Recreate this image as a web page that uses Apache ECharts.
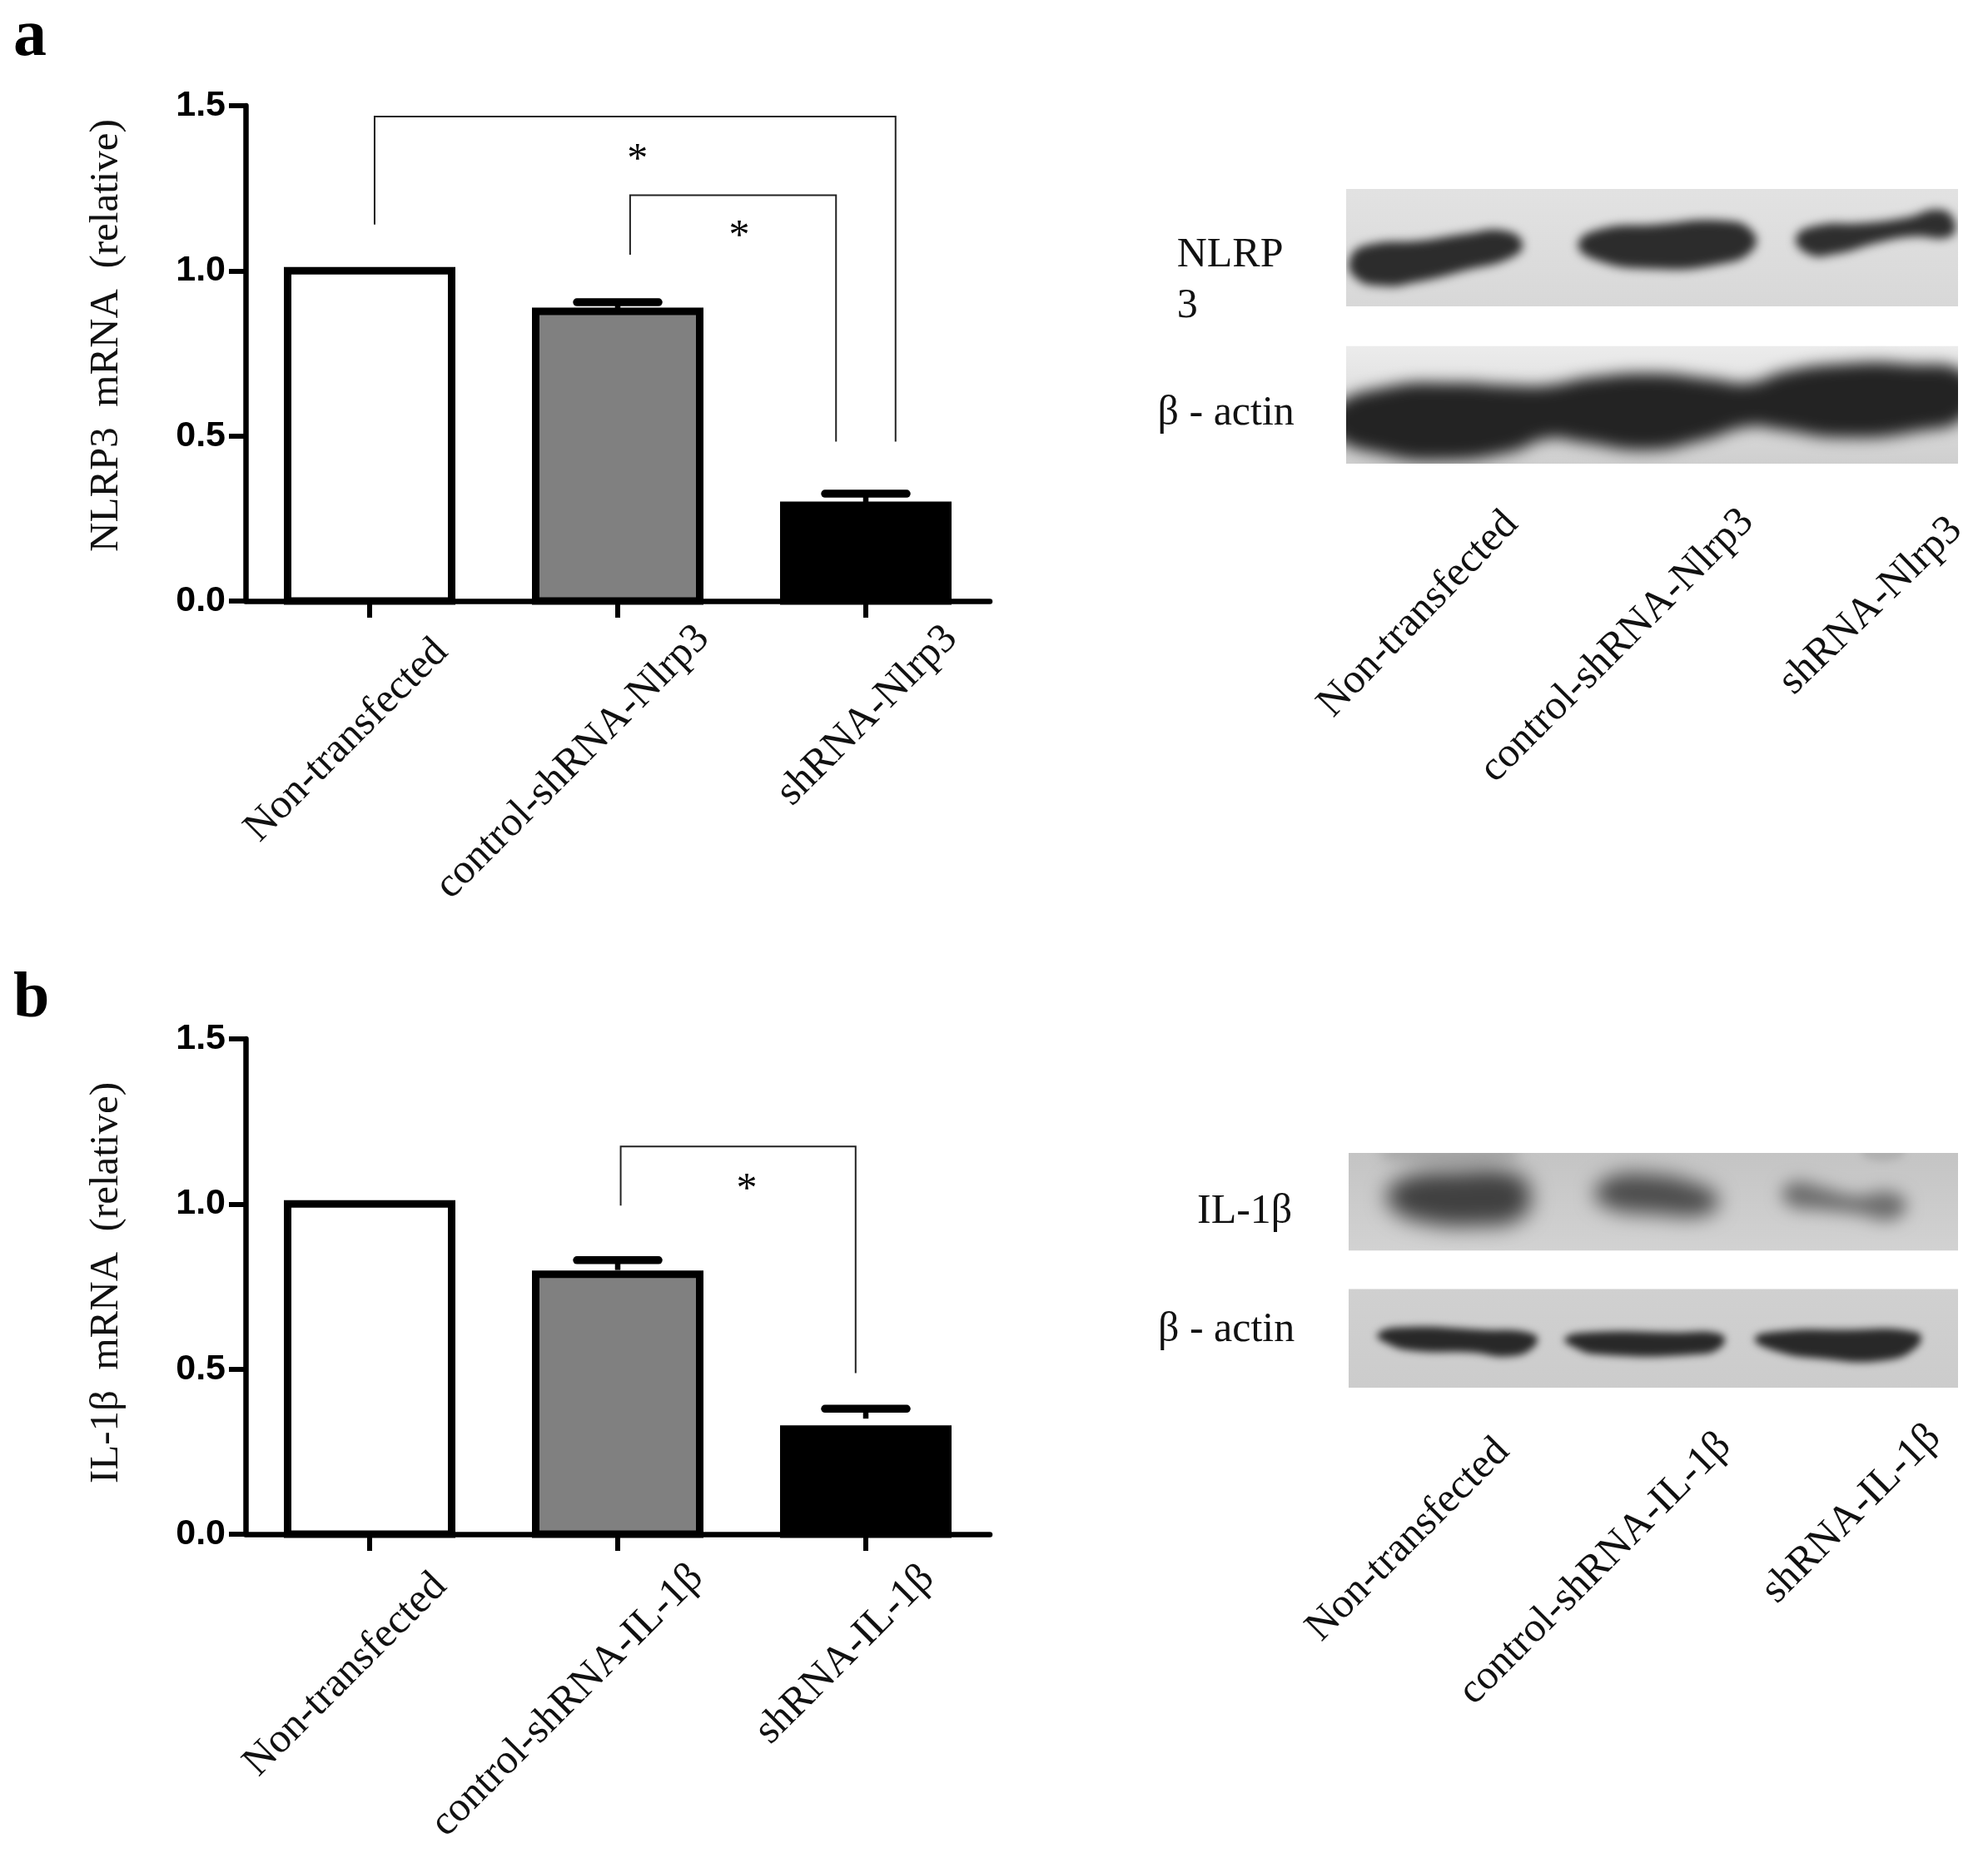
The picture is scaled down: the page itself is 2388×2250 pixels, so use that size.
<!DOCTYPE html>
<html>
<head>
<meta charset="utf-8">
<style>html,body{margin:0;padding:0;background:#fff}#c{width:2388px;height:2250px}</style>
<script src="https://cdn.jsdelivr.net/npm/echarts@6/dist/echarts.min.js"></script>
</head>
<body>
<div id="c"></div>
<script>
// ---------- data ----------
const categoriesA = ['Non-transfected', 'control-shRNA-Nlrp3', 'shRNA-Nlrp3'];
const categoriesB = ['Non-transfected', 'control-shRNA-IL-1β', 'shRNA-IL-1β'];
const valuesA = [1.0, 0.877, 0.29];
const valuesB = [1.0, 0.787, 0.318];
const errorTopA = [null, 0.905, 0.325];
const errorTopB = [null, 0.83, 0.38];
const yTicks = [0, 0.5, 1.0, 1.5];
// significance brackets, in category / value units
const bracketsA = [
  [[0.02, 1.14], [0.02, 1.467], [2.12, 1.467], [2.12, 0.483]],
  [[1.05, 1.049], [1.05, 1.229], [1.88, 1.229], [1.88, 0.483]]
];
const bracketsB = [
  [[1.012, 0.995], [1.012, 1.174], [1.959, 1.174], [1.959, 0.488]]
];
const starsA = [[1.08, 1.356], [1.49, 1.125]];
const starsB = [[1.52, 1.063]];

// ---------- blot illustrations, in each blot panel's own hidden-axis units ----------
const blotPanelsA = [
  { box: [404, 98, 1514, 393], top: '#e2e2e2', bottom: '#d8d8d8' },
  { box: [404, 493, 1514, 789], top: '#ececec', bottom: '#cfcfcf' }
];
const blotBandsA = [
  { box: 0, color: '#2c2c2c', blur: 12, pts: [[412,270],[446,238],[540,228],[620,211],[692,203],[724,235],[704,270],[622,302],[532,332],[470,342],[420,320]] },
  { box: 0, color: '#2c2c2c', blur: 12, pts: [[825,235],[868,198],[960,188],[1092,178],[1141,205],[1141,252],[1082,287],[960,299],[856,276]] },
  { box: 0, color: '#2e2e2e', blur: 12, pts: [[1220,220],[1258,190],[1340,184],[1420,170],[1480,150],[1508,180],[1499,218],[1432,218],[1372,232],[1290,262],[1243,262]] },
  { box: 1, color: '#232323', blur: 18, pts: [[380,650],[480,596],[600,586],[700,592],[770,592],[850,572],[960,562],[1070,577],[1135,586],[1200,557],[1300,538],[1420,538],[1530,565],[1530,665],[1440,708],[1300,723],[1190,703],[1135,696],[1050,730],[950,755],[830,735],[770,726],[700,760],[580,780],[470,765],[380,715]] }
];
const blotLabelsA = [
  { text: 'NLRP', x: 97, y: 266, rot: 0 }, { text: '3', x: 97, y: 393, rot: 0 },
  { text: 'β - actin', x: 62, y: 664, rot: 0 },
  { text: 'Non-transfected', x: 535, y: 1168, rot: 46 },
  { text: 'control-shRNA-Nlrp3', x: 896, y: 1247, rot: 45 },
  { text: 'shRNA-Nlrp3', x: 1356, y: 1147, rot: 44 }
];
const blotPanelsB = [
  { box: [408, 72, 1514, 318], top: '#c4c4c4', bottom: '#d2d2d2' },
  { box: [408, 415, 1514, 664], top: '#d0d0d0', bottom: '#cccccc' }
];
const blotBandsB = [
  { box: 0, color: '#a8a8a8', blur: 16, pts: [[470,50],[700,50],[710,90],[480,90]] },
  { box: 0, color: '#b0b0b0', blur: 10, pts: [[1345,50],[1410,50],[1410,84],[1345,84]] },
  { box: 0, color: '#404040', blur: 26, pts: [[478,175],[510,135],[600,120],[710,125],[738,175],[720,235],[640,255],[540,245],[490,215]] },
  { box: 0, color: '#4c4c4c', blur: 24, pts: [[855,175],[880,135],[950,125],[1040,150],[1078,185],[1060,225],[960,225],[880,210]] },
  { box: 0, color: '#6c6c6c', blur: 20, pts: [[1195,170],[1220,145],[1270,160],[1330,180],[1390,170],[1420,200],[1395,240],[1330,225],[1260,215],[1210,205]] },
  { box: 1, color: '#282828', blur: 10, pts: [[460,530],[500,512],[650,518],[745,530],[745,560],[700,585],[630,575],[520,570],[475,550]] },
  { box: 1, color: '#282828', blur: 10, pts: [[800,540],[840,525],[1000,525],[1085,530],[1085,560],[1040,580],[860,580],[815,560]] },
  { box: 1, color: '#282828', blur: 10, pts: [[1145,540],[1190,522],[1300,518],[1440,525],[1440,560],[1380,595],[1260,590],[1180,570]] }
];
const blotLabelsB = [
  { text: 'IL-1β', x: 133, y: 220, rot: 0 },
  { text: 'β - actin', x: 62, y: 518, rot: 0 },
  { text: 'Non-transfected', x: 516, y: 1048, rot: 45 },
  { text: 'control-shRNA-IL-1β', x: 856, y: 1121, rot: 45 },
  { text: 'shRNA-IL-1β', x: 1321, y: 983, rot: 45 }
];

// ---------- styles / layout ----------
const SERIF = '"Liberation Serif"';
const SANS = '"Liberation Sans"';
const barFills = ['#ffffff', '#808080', '#000000'];
// shift of each rotated tick label from its anchor: [along the text, across the text]
const labelShiftA = [[-39, 0], [-76, 0], [3, 0]];
const labelShiftB = [[-41, 1], [-85, 8], [-21, -14]];
const LABEL_MARGIN = 140;
const BAR_PX = 197;
const BAR_EDGE = 9;

function axisCats(cats, shifts) {
  return cats.map((c, i) => {
    const lx = shifts[i][0], ly = shifts[i][1];
    const style = {
      align: 'center', verticalAlign: 'middle',
      padding: [ly > 0 ? 2 * ly : 0, lx < 0 ? -2 * lx : 0, 0, lx > 0 ? 2 * lx : 0]
    };
    if (ly < 0) { style.verticalAlign = 'bottom'; style.lineHeight = -2 * ly; }
    return { value: c, textStyle: style };
  });
}

function errorSeries(xi, yi, top) {
  return {
    type: 'custom', xAxisIndex: xi, yAxisIndex: yi, z: 1,
    data: top.map((t, i) => t === null ? null : [i, t]).filter(Boolean),
    renderItem(p, api) {
      const x = api.value(0), t = api.value(1);
      const a = api.coord([x, t]);
      const b = api.coord([x, t - 0.03]);
      return {
        type: 'group', children: [
          { type: 'line', shape: { x1: a[0], y1: a[1], x2: b[0], y2: b[1] }, style: { stroke: '#000', lineWidth: 6.5 } },
          { type: 'line', shape: { x1: a[0] - 49, y1: a[1], x2: a[0] + 49, y2: a[1] }, style: { stroke: '#000', lineWidth: 9.5, lineCap: 'round' } }
        ]
      };
    }
  };
}

function barSeries(xi, yi, vals) {
  return {
    type: 'bar', xAxisIndex: xi, yAxisIndex: yi, barWidth: BAR_PX, z: 2,
    data: vals.map((v, i) => ({ value: v, itemStyle: { color: barFills[i], borderWidth: 0 } }))
  };
}

// outline centred on each bar's edges
function barOutlineSeries(xi, yi, vals) {
  return {
    type: 'custom', xAxisIndex: xi, yAxisIndex: yi, z: 3,
    data: vals.map((v, i) => [i, v]),
    renderItem(p, api) {
      const t = api.coord([api.value(0), api.value(1)]);
      const b = api.coord([api.value(0), 0]);
      return {
        type: 'rect', shape: { x: t[0] - BAR_PX / 2, y: t[1], width: BAR_PX, height: b[1] - t[1] },
        style: { fill: null, stroke: '#000', lineWidth: BAR_EDGE }
      };
    }
  };
}

function bracketSeries(xi, yi, brackets) {
  return {
    type: 'custom', xAxisIndex: xi, yAxisIndex: yi, z: 4,
    data: brackets.map((b, i) => [b[0][0], b[0][1], i]),
    renderItem(p, api) {
      const pts = brackets[api.value(2)].map(q => api.coord(q));
      return { type: 'polyline', shape: { points: pts }, style: { stroke: '#222', lineWidth: 2, fill: null } };
    }
  };
}

function starSeries(xi, yi, stars) {
  return {
    type: 'custom', xAxisIndex: xi, yAxisIndex: yi, z: 4,
    data: stars,
    renderItem(p, api) {
      const c = api.coord([api.value(0), api.value(1)]);
      return { type: 'text', x: c[0], y: c[1] + 9, style: { text: '*', fontFamily: SERIF, fontSize: 50, fill: '#000', align: 'center', verticalAlign: 'middle' } };
    }
  };
}

function blotPanelSeries(xi, yi, panels) {
  return {
    type: 'custom', xAxisIndex: xi, yAxisIndex: yi, z: 1,
    data: panels.map((q, i) => [q.box[0], q.box[1], i]),
    renderItem(p, api) {
      const q = panels[api.value(2)];
      const a = api.coord([q.box[0], q.box[1]]), b = api.coord([q.box[2], q.box[3]]);
      return {
        type: 'rect', shape: { x: a[0], y: a[1], width: b[0] - a[0], height: b[1] - a[1] },
        style: { fill: new echarts.graphic.LinearGradient(0, 0, 0, 1, [{ offset: 0, color: q.top }, { offset: 1, color: q.bottom }]) }
      };
    }
  };
}

// The band outline sits off-canvas so only its blurred shadow lands on the panel.
const OFFSET = 4000;
function blotBandSeries(xi, yi, panels, bands) {
  return {
    type: 'custom', xAxisIndex: xi, yAxisIndex: yi, z: 2,
    data: bands.map((q, i) => [q.pts[0][0], q.pts[0][1], i]),
    renderItem(p, api) {
      const q = bands[api.value(2)];
      const bx = panels[q.box].box;
      const a = api.coord([bx[0], bx[1]]), b = api.coord([bx[2], bx[3]]);
      return {
        type: 'group',
        clipPath: { type: 'rect', shape: { x: a[0], y: a[1], width: b[0] - a[0], height: b[1] - a[1] } },
        children: [{
          type: 'polygon',
          shape: { points: q.pts.map(t => { const c = api.coord(t); return [c[0] - OFFSET, c[1]]; }), smooth: 0.5 },
          style: { fill: q.color, shadowBlur: q.blur, shadowColor: q.color, shadowOffsetX: OFFSET }
        }]
      };
    }
  };
}

function blotLabelSeries(xi, yi, labels) {
  return {
    type: 'custom', xAxisIndex: xi, yAxisIndex: yi, z: 5,
    data: labels.map((q, i) => [q.x, q.y, i]),
    renderItem(p, api) {
      const q = labels[api.value(2)];
      const c = api.coord([q.x, q.y]);
      const rotated = q.rot !== 0;
      return {
        type: 'text', x: c[0], y: c[1], rotation: q.rot * Math.PI / 180,
        style: {
          text: q.text, fontFamily: SERIF, fontSize: 50, fill: '#111',
          align: rotated ? 'center' : 'left', verticalAlign: 'middle'
        }
      };
    }
  };
}

function chartAxes(top, height, name, nameShift, cats, shifts, gridIndex) {
  return {
    grid: { left: 295, width: 894, top: top, height: height, containLabel: false, outerBoundsMode: 'none' },
    xs: [
      {
        type: 'category', gridIndex, data: axisCats(cats, shifts), boundaryGap: true,
        axisLine: { show: true, onZero: false, lineStyle: { color: '#000', width: 6.5 } },
        axisTick: { show: true, alignWithLabel: true, length: 20, lineStyle: { color: '#000', width: 6 } },
        axisLabel: {
          interval: 0, rotate: 45, margin: LABEL_MARGIN,
          fontFamily: SERIF, fontSize: 50, color: '#111', hideOverlap: false
        }
      },
      { type: 'value', gridIndex, show: false, min: -0.5, max: 2.5, splitLine: { show: false } }
    ],
    y: {
      type: 'value', gridIndex, min: 0, max: 1.5, interval: 0.5,
      name, nameLocation: 'middle', nameGap: 142, nameRotate: 90,
      nameTextStyle: { fontFamily: SERIF, fontSize: 49, color: '#111', padding: nameShift },
      splitLine: { show: false },
      axisLine: { show: true, onZero: false, lineStyle: { color: '#000', width: 6.5 } },
      axisTick: { show: true, length: 20, lineStyle: { color: '#000', width: 6 } },
      axisLabel: {
        margin: 24, fontFamily: SANS, fontWeight: 'bold', fontSize: 43, color: '#000',
        formatter: v => yTicks.includes(v) ? v.toFixed(1) : ''
      }
    }
  };
}

function hiddenAxes(box, gridIndex) {
  return {
    x: { type: 'value', gridIndex, show: false, min: box[0], max: box[2], splitLine: { show: false } },
    y: { type: 'value', gridIndex, show: false, min: box[1], max: box[3], inverse: true, splitLine: { show: false } }
  };
}

const chartA = chartAxes(127, 595, 'NLRP3  mRNA  (relative)', [0, 0, 0, 43], categoriesA, labelShiftA, 0);
const chartB = chartAxes(1248, 595, 'IL-1β  mRNA  (relative)', [0, 0, 0, 9], categoriesB, labelShiftB, 2);
const hidA = hiddenAxes([404, 98, 1514, 789], 1);
const hidB = hiddenAxes([408, 72, 1514, 664], 3);

const option = {
  animation: false,
  backgroundColor: '#ffffff',
  title: [
    { text: 'a', left: 11, top: 0, textStyle: { fontFamily: SERIF, fontWeight: 'bold', fontSize: 80, color: '#000' } },
    { text: 'b', left: 11, top: 1157, textStyle: { fontFamily: SERIF, fontWeight: 'bold', fontSize: 78, color: '#000' } }
  ],
  tooltip: { show: false },
  legend: { show: false },
  grid: [
    chartA.grid,
    { left: 1617, width: 735, top: 227, height: 330, outerBoundsMode: 'none' },
    chartB.grid,
    { left: 1620, width: 732, top: 1385, height: 282, outerBoundsMode: 'none' }
  ],
  // axes: 0,1 chart a; 2 blot a; 3,4 chart b; 5 blot b
  xAxis: [chartA.xs[0], chartA.xs[1], hidA.x, chartB.xs[0], chartB.xs[1], hidB.x],
  yAxis: [chartA.y, hidA.y, chartB.y, hidB.y],
  series: [
    errorSeries(0, 0, errorTopA),
    barSeries(0, 0, valuesA),
    barOutlineSeries(0, 0, valuesA),
    bracketSeries(1, 0, bracketsA),
    starSeries(1, 0, starsA),
    blotPanelSeries(2, 1, blotPanelsA),
    blotBandSeries(2, 1, blotPanelsA, blotBandsA),
    blotLabelSeries(2, 1, blotLabelsA),
    errorSeries(3, 2, errorTopB),
    barSeries(3, 2, valuesB),
    barOutlineSeries(3, 2, valuesB),
    bracketSeries(4, 2, bracketsB),
    starSeries(4, 2, starsB),
    blotPanelSeries(5, 3, blotPanelsB),
    blotBandSeries(5, 3, blotPanelsB, blotBandsB),
    blotLabelSeries(5, 3, blotLabelsB)
  ]
};
const chart = echarts.init(document.getElementById('c'), null, { renderer: 'canvas', width: 2388, height: 2250 });
chart.setOption(option);
</script>
</body>
</html>
